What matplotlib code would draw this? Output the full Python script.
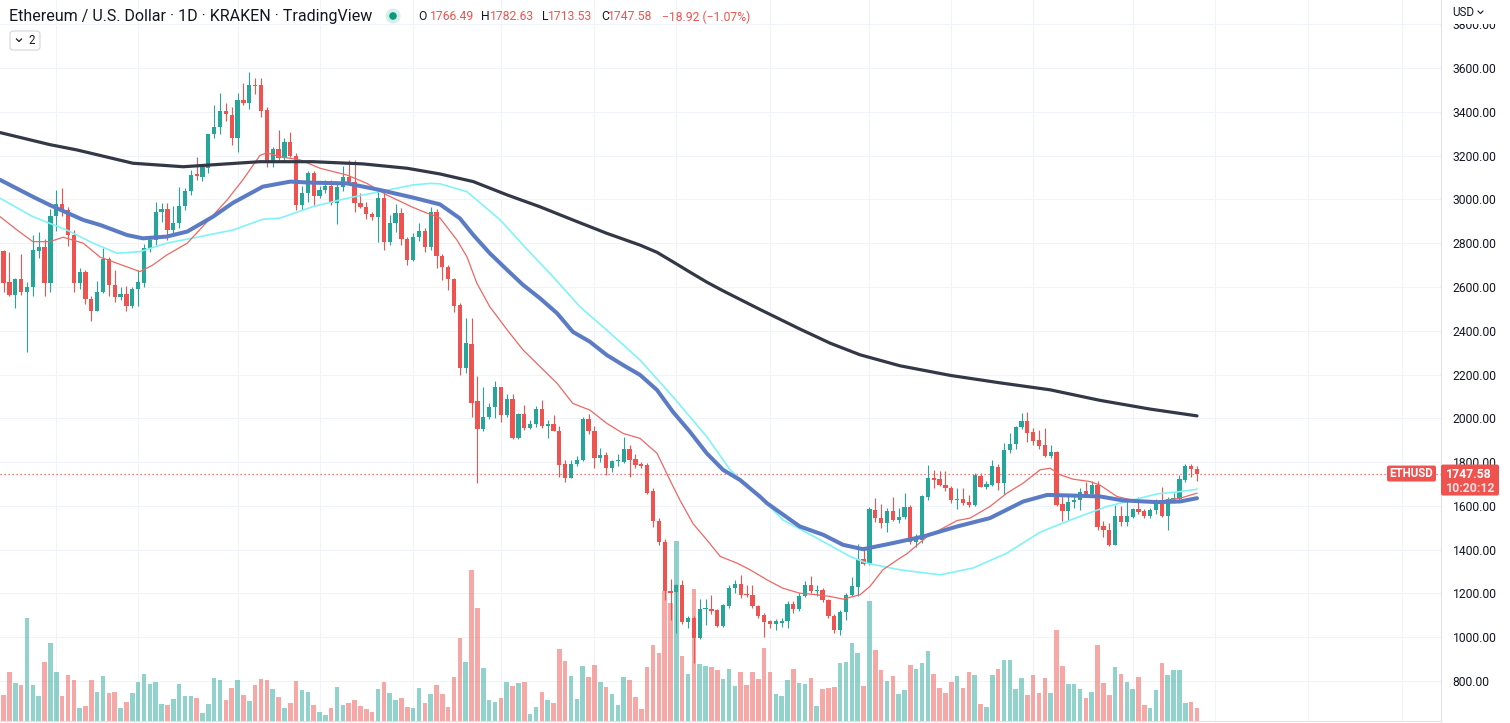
import matplotlib
matplotlib.use("Agg")
import matplotlib.pyplot as plt
import numpy as np
from matplotlib.patches import FancyBboxPatch, Circle, Rectangle

# ---------------- data ----------------
opens = [
2764,2623,2565,2636,2578,2600,2764,2783,2620,2924,
2978,2950,2838,2620,2668,2547,2492,2576,2728,2609,
2556,2568,2513,2590,2620,2777,2815,2943,2955,2860,
2892,2970,3036,3116,3104,3143,3299,3332,3404,3385,
3282,3454,3441,3522,3522,3408,3165,3230,3190,3264,
3200,2975,3028,3119,3017,3043,3061,2985,3055,3100,
3081,2982,2964,2934,2921,3005,2807,2891,2936,2818,
2723,2827,2855,2781,2941,2742,2690,2635,2518,2229,
2340,2081,1950,2005,2052,2142,2016,2087,1909,2019,
1955,1973,2043,1967,1975,1943,1792,1726,1792,1810,
1997,1940,1818,1833,1772,1805,1802,1860,1813,1792,
1787,1666,1532,1437,1212,1206,1240,1068,1087,995,
1127,1130,1125,1049,1141,1224,1244,1198,1194,1143,
1103,1072,1061,1064,1072,1153,1130,1189,1240,1212,
1217,1171,1098,1034,1115,1194,1229,1358,1335,1582,
1544,1521,1577,1535,1550,1597,1437,1444,1640,1727,
1722,1696,1681,1627,1632,1618,1605,1737,1688,1697,
1777,1704,1853,1883,1960,1986,1937,1901,1879,1830,
1847,1609,1575,1617,1625,1670,1655,1696,1509,1490,
1422,1554,1524,1551,1585,1577,1554,1579,1617,1554,
1631,1632,1716,1780,1766.49]

highs = [
2770,2760,2640,2750,2624,2837,2850,2820,2955,3043,
3052,2966,2860,2685,2677,2560,2627,2778,2738,2677,
2600,2606,2600,2677,2795,2832,2988,2985,2985,2970,
3058,3050,3134,3195,3160,3300,3431,3487,3440,3420,
3484,3530,3580,3553,3553,3420,3240,3317,3280,3307,
3210,3060,3130,3130,3060,3090,3090,3080,3151,3180,
3180,3030,2990,2940,3040,3030,2930,2980,2960,2830,
2845,2890,2870,2965,2955,2750,2700,2640,2525,2457,
2457,2194,2142,2070,2171,2145,2110,2110,2023,2060,
1990,2055,2085,1990,2015,1965,1810,1810,1830,2005,
2020,1965,1865,1845,1810,1835,1915,1880,1835,1800,
1795,1680,1545,1450,1265,1245,1260,1095,1095,1175,
1175,1194,1130,1150,1240,1260,1285,1240,1240,1145,
1110,1080,1085,1090,1165,1165,1200,1255,1280,1240,
1225,1175,1105,1125,1200,1275,1427,1405,1597,1635,
1610,1590,1640,1590,1660,1605,1470,1650,1787,1765,
1760,1760,1690,1680,1680,1650,1750,1750,1715,1810,
1790,1889,1935,1965,2023,2027,1955,1945,1955,1880,
1850,1655,1655,1650,1680,1710,1715,1712,1530,1520,
1605,1600,1620,1590,1640,1585,1590,1630,1685,1640,
1660,1740,1792,1792,1782.63]

lows = [
2577,2559,2506,2564,2305,2560,2734,2560,2577,2857,
2923,2789,2579,2592,2524,2446,2488,2570,2560,2530,
2540,2488,2504,2513,2600,2760,2790,2897,2815,2835,
2870,2950,3020,3088,3085,3120,3280,3300,3360,3250,
3218,3433,3413,3480,3378,3150,3148,3170,3175,3195,
2952,2952,2990,2976,3005,3030,2975,2888,3040,3070,
2940,2960,2910,2905,2803,2770,2790,2850,2790,2700,
2720,2810,2760,2770,2685,2632,2586,2487,2200,2206,
2005,1704,1940,1995,2000,1985,2005,1905,1905,1945,
1950,1960,1955,1910,1940,1734,1710,1725,1780,1805,
1930,1775,1800,1740,1755,1780,1795,1730,1775,1775,
1655,1503,1420,1168,1080,1019,1060,1040,880,990,
1054,1105,1045,1048,1135,1200,1180,1185,1135,1090,
1000,1040,1035,1045,1040,1110,1120,1185,1200,1190,
1160,1090,1020,1008,1080,1190,1190,1330,1332,1525,
1500,1480,1530,1520,1540,1425,1410,1430,1625,1680,
1690,1670,1615,1585,1605,1595,1600,1685,1675,1690,
1672,1655,1840,1860,1950,1890,1880,1860,1822,1820,
1600,1529,1535,1590,1580,1645,1640,1490,1460,1415,
1420,1510,1510,1545,1565,1545,1545,1565,1550,1490,
1615,1625,1710,1730,1713.53]

closes = [
2618,2564,2636,2578,2600,2769,2783,2620,2924,2978,
2948,2838,2620,2668,2547,2492,2576,2728,2609,2556,
2568,2513,2590,2622,2777,2815,2943,2955,2860,2892,
2970,3038,3112,3107,3150,3299,3332,3404,3389,3282,
3454,3441,3522,3518,3405,3165,3230,3190,3264,3200,
2975,3028,3119,3017,3043,3061,2985,3055,3100,3081,
2982,2964,2932,2921,3005,2807,2891,2936,2818,2723,
2827,2855,2781,2941,2742,2690,2635,2513,2229,2343,
2072,1950,2005,2050,2142,2016,2087,1909,2019,1955,
1973,2043,1967,1975,1940,1787,1726,1792,1810,1997,
1940,1818,1833,1772,1805,1806,1860,1810,1787,1783,
1660,1529,1433,1209,1204,1240,1068,1087,996,1130,
1130,1122,1049,1145,1224,1244,1194,1191,1141,1095,
1068,1061,1072,1075,1153,1130,1189,1240,1212,1217,
1168,1095,1034,1117,1194,1232,1358,1335,1587,1544,
1521,1577,1535,1550,1595,1437,1448,1643,1727,1719,
1696,1681,1627,1631,1615,1605,1742,1688,1700,1783,
1704,1856,1883,1962,1986,1935,1898,1874,1830,1847,
1605,1575,1617,1628,1663,1655,1696,1505,1488,1422,
1554,1524,1554,1585,1573,1554,1582,1620,1554,1631,
1637,1723,1780,1766.50,1747.58]

volumes = [
26,49,38,36,103,36,25,59,78,49,
25,46,41,13,15,41,29,45,28,29,
13,19,28,39,47,37,39,17,16,22,
37,25,25,23,8,17,43,41,21,33,
41,26,20,36,42,41,32,24,13,18,
40,31,29,16,9,6,13,34,16,18,
21,15,12,9,32,39,28,21,23,14,
13,33,18,27,36,27,14,44,83,59,
151,113,53,21,19,23,39,35,38,39,
7,14,29,21,18,72,60,45,22,55,
44,56,39,34,27,16,44,41,24,12,
54,76,68,130,118,180,65,47,132,57,
55,54,51,42,52,35,49,36,49,42,
73,49,27,25,41,52,38,37,43,15,
32,33,34,58,59,78,68,35,120,71,
51,40,45,27,31,56,52,58,70,47,
33,28,39,45,33,49,46,17,14,46,
52,61,61,32,43,26,46,28,43,28,
91,55,37,37,32,23,29,76,38,26,
54,47,39,32,44,16,13,31,58,46,
51,51,18,19,13]

# moving averages (bar index, price)
ma_black_idx = [-0.6, 7.9, 12.5, 22.1, 30.7, 43.8, 52.9, 61.4, 69.0, 74.6, 80.3, 86.1, 91.7,
                97.3, 103.1, 108.8, 111.7, 114.4, 117.3, 120.2, 123.0, 129.3, 136.1, 141.3,
                146.4, 153.2, 161.8, 170.3, 178.9, 187.4, 196.0, 204.0]
ma_black_val = [3305, 3250, 3226, 3165, 3149, 3172, 3172, 3162, 3142, 3116, 3081, 3020, 2966,
                2906, 2845, 2791, 2758, 2715, 2668, 2622, 2582, 2497, 2408, 2343,
                2290, 2240, 2196, 2162, 2130, 2082, 2042, 2011]

ma_blue_idx = [-0.6, 5.0, 7.9, 13.6, 16.5, 21.1, 23.8, 27.9, 31.4, 35.8, 39.2, 44.3, 49.0, 52.9,
               58.7, 64.3, 70.0, 74.6, 78.0, 80.3, 83.1, 86.1, 88.8, 91.7, 94.6, 97.3, 100.2,
               103.1, 105.9, 108.8, 111.7, 114.4, 117.3, 120.2, 123.0, 125.9, 129.3, 130.5,
               136.1, 140.1, 143.5, 146.9, 151.5, 157.2, 163.0, 168.6, 174.3, 178.4, 182.8,
               187.4, 191.3, 197.2, 201.1, 204.0]
ma_blue_val = [3089, 3012, 2974, 2906, 2883, 2837, 2822, 2830, 2853, 2921, 2984, 3058, 3081, 3076,
               3073, 3043, 3008, 2977, 2913, 2837, 2754, 2677, 2609, 2548, 2480, 2395, 2350,
               2289, 2243, 2198, 2129, 2030, 1939, 1840, 1764, 1718, 1642, 1612,
               1506, 1468, 1422, 1402, 1427, 1460, 1506, 1544, 1620, 1650, 1647,
               1643, 1625, 1617, 1620, 1635]

ma_cyan_idx = [-0.6, 5.0, 10.8, 15.3, 19.4, 23.3, 27.9, 33.6, 39.2, 44.3, 47.2, 52.9, 58.7, 64.3,
               70.0, 72.9, 74.6, 79.2, 84.9, 88.8, 93.9, 98.5, 103.1, 108.8, 114.4, 120.2, 124.2,
               129.3, 133.2, 139.0, 144.7, 147.6, 153.2, 160.1, 165.7, 171.5, 177.2, 182.8, 188.6,
               193.1, 197.2, 201.1, 204.0]
ma_cyan_val = [3005, 2921, 2860, 2800, 2754, 2761, 2800, 2830, 2860, 2909, 2914, 2967, 3005, 3035,
               3066, 3073, 3071, 3035, 2906, 2791, 2647, 2510, 2403, 2266, 2099, 1916, 1764,
               1642, 1536, 1453, 1369, 1338, 1308, 1285, 1316, 1384, 1480, 1540, 1597,
               1627, 1655, 1665, 1676]

ma_red_idx = [-0.6, 2.3, 5.0, 7.9, 10.2, 13.6, 16.5, 19.4, 23.3, 25.5, 27.9, 31.4, 34.8, 38.2,
              40.9, 43.8, 45.0, 47.2, 50.7, 54.1, 58.7, 62.1, 65.5, 70.0, 72.4, 74.6, 77.5, 79.2,
              80.9, 83.1, 86.1, 88.8, 91.7, 94.6, 97.3, 99.0, 100.2, 103.1, 105.9, 108.8, 111.7,
              113.9, 115.6, 117.9, 120.2, 122.5, 125.4, 127.6, 130.5, 133.2, 136.1, 139.0, 141.3,
              143.5, 146.4, 148.1, 150.3, 153.2, 154.4, 157.8, 163.0, 165.2, 168.6, 171.5, 174.3,
              177.2, 178.9, 180.6, 182.8, 185.7, 187.4, 190.3, 193.1, 197.2, 201.1, 204.0]
ma_red_val = [2921, 2860, 2807, 2807, 2827, 2800, 2736, 2708, 2670, 2700, 2746, 2800, 2898, 2997,
              3089, 3200, 3213, 3195, 3180, 3142, 3111, 3073, 3020, 2963, 2937, 2915, 2814, 2738,
              2617, 2510, 2403, 2312, 2236, 2160, 2068, 2050, 2038, 1977, 1931, 1908, 1840,
              1718, 1627, 1517, 1445, 1369, 1338, 1308, 1262, 1224, 1201, 1194, 1186,
              1174, 1194, 1232, 1308, 1361, 1381, 1458, 1533, 1544, 1597, 1658, 1704,
              1765, 1772, 1742, 1722, 1711, 1695, 1643, 1625, 1620, 1635, 1658]

price_ticks = [800, 1000, 1200, 1400, 1600, 1800, 2000, 2200, 2400, 2600,
               2800, 3000, 3200, 3400, 3600, 3800]
grid_days = [9, 23, 40, 54, 70, 85, 101, 115, 131, 148, 162, 176, 193, 207, 223, 239]

title_text = "Ethereum / U.S. Dollar \u00b7 1D \u00b7 KRAKEN \u00b7 TradingView"
symbol = "ETHUSD"
countdown = "10:20:12"

# ---------------- figure ----------------
W, H = 1510, 723
fig = plt.figure(figsize=(W / 100, H / 100), dpi=100)
fig.patch.set_facecolor("white")

UP, DOWN = "#26a69a", "#ef5350"
px_x0, px_dx = 3.6, 5.85
plot_w, plot_h = 1441, 721
xlim = (-px_x0 / px_dx, (plot_w - px_x0) / px_dx)
ylim = (617.3, 3910.6)
rect = [0, (H - plot_h) / H, plot_w / W, plot_h / H]

# grid layer
axg = fig.add_axes(rect, zorder=0)
axg.set_xlim(*xlim)
axg.set_ylim(*ylim)
axg.set_xticks(grid_days)
axg.set_yticks(price_ticks)
axg.grid(True, color="#f0f3fa", lw=0.8)
axg.tick_params(length=0, labelleft=False, labelbottom=False)
for s in axg.spines.values():
    s.set_visible(False)

# volume layer
axv = fig.add_axes(rect, zorder=1, sharex=axg)
axv.patch.set_visible(False)
axv.set_ylim(0, plot_h)
O = np.array(opens, float); Hh = np.array(highs, float)
Lw = np.array(lows, float); C = np.array(closes, float)
V = np.array(volumes, float)
idx = np.arange(len(O))
up = C >= O
vcol = np.where(up, UP, DOWN)
axv.bar(idx, V, width=0.78, color=vcol, alpha=0.5, linewidth=0)
axv.axis("off")

# price layer
ax = fig.add_axes(rect, zorder=2, sharex=axg)
ax.patch.set_visible(False)
ax.set_xlim(*xlim)
ax.set_ylim(*ylim)
ccol = np.where(up, UP, DOWN)
hi = np.maximum(Hh, np.maximum(O, C))
lo = np.minimum(Lw, np.minimum(O, C))
ax.vlines(idx, lo, hi, colors=ccol, lw=0.8, zorder=2)
unit = (ylim[1] - ylim[0]) / plot_h
body_h = np.maximum(np.abs(C - O), unit * 1.2)
ax.bar(idx, body_h, bottom=np.minimum(O, C), width=0.72, color=ccol, linewidth=0, zorder=2)

ax.plot(ma_cyan_idx, ma_cyan_val, color="#80f3f8", lw=1.2, zorder=3, solid_joinstyle="round")
ax.plot(ma_red_idx, ma_red_val, color="#ee6763", lw=0.9, zorder=3, solid_joinstyle="round")
ax.plot(ma_blue_idx, ma_blue_val, color="#5b7cc4", lw=2.9, zorder=3, solid_joinstyle="round",
        solid_capstyle="round")
ax.plot(ma_black_idx, ma_black_val, color="#323846", lw=2.3, zorder=3, solid_joinstyle="round",
        solid_capstyle="round")

last_price = C[-1]
ax.axhline(last_price, color=DOWN, lw=0.9, ls=(0, (1, 2.2)), zorder=1.5)

ax.yaxis.tick_right()
ax.set_yticks(price_ticks)
ax.set_yticklabels([f"{p:.2f}" for p in price_ticks], family="Roboto", fontsize=8.7,
                   color="#131722")
ax.tick_params(axis="y", length=0, pad=8.5)
ax.tick_params(axis="x", length=0, labelbottom=False)
for side in ("top", "left"):
    ax.spines[side].set_visible(False)
ax.spines["right"].set_color("#e0e3eb")
ax.spines["bottom"].set_color("#e0e3eb")

# ---------------- overlay (header, labels) ----------------
ov = fig.add_axes([0, 0, 1, 1], zorder=5)
ov.set_xlim(0, W)
ov.set_ylim(H, 0)
ov.axis("off")
renderer = fig.canvas.get_renderer()


def fit(x, y, s, width, color, weight="normal", ha="left", family="Roboto"):
    t = ov.text(x, y, s, fontsize=10, color=color, weight=weight, ha=ha, va="center",
                family=family)
    w = t.get_window_extent(renderer).width
    t.set_fontsize(10 * width / w)
    return t


fit(9, 16, title_text, 361, "#131722")
ov.add_patch(Circle((393, 16), 7.5, color="#d7efe9", lw=0))
ov.add_patch(Circle((393, 16), 3.8, color="#089981", lw=0))

o_, h_, l_, c_ = opens[-1], highs[-1], lows[-1], closes[-1]
chg = c_ - closes[-2]
pct = chg / closes[-2] * 100
legend = [("O", 418, "#131722"), (f"{o_:.2f}", 430, DOWN),
          ("H", 481, "#131722"), (f"{h_:.2f}", 490, DOWN),
          ("L", 542, "#131722"), (f"{l_:.2f}", 548, DOWN),
          ("C", 601, "#131722"), (f"{c_:.2f}", 608, DOWN),
          (f"\u2212{abs(chg):.2f} (\u2212{abs(pct):.2f}%)", 662, DOWN)]
tval = fit(430, 17, legend[1][0], 44, DOWN)
fs = tval.get_fontsize()
tval.remove()
for s, x, col in legend:
    ov.text(x, 17, s, fontsize=fs, color=col, va="center", ha="left", family="Roboto")

# small "collapse" box
ov.add_patch(FancyBboxPatch((10, 31), 30, 19, boxstyle="round,pad=0,rounding_size=3",
                            fc="white", ec="#d1d4dc", lw=0.8))
ov.plot([16.5, 19, 21.5], [39, 41.5, 39], color="#131722", lw=0.9)
ov.text(28, 40.5, "2", fontsize=fs * 0.95, color="#131722", va="center", ha="left",
        family="Roboto")

# currency button on the price scale (hides the top of the 3800 label)
ov.add_patch(Rectangle((1442, 0), W - 1442, 23.5, fc="white", ec="none"))
ov.text(1452, 12, "USD", fontsize=8.4, color="#131722", va="center", ha="left", family="Roboto")
ov.plot([1478, 1480.5, 1483], [11, 13.5, 11], color="#131722", lw=0.8)

# last price labels
yp = H - ax.transData.transform((0, last_price))[1]
ov.add_patch(FancyBboxPatch((1387, yp - 8), 49, 16, boxstyle="round,pad=0,rounding_size=2",
                            fc=DOWN, ec="none"))
ov.text(1411.5, yp, symbol, fontsize=8.3, color="white", weight="bold", va="center",
        ha="center", family="Roboto")
ov.add_patch(FancyBboxPatch((1441, yp - 9), 58, 31, boxstyle="round,pad=0,rounding_size=2",
                            fc=DOWN, ec="none"))
ov.text(1446, yp + 0.5, f"{last_price:.2f}", fontsize=8.8, color="white", weight="bold",
        va="center", ha="left", family="Roboto")
ov.text(1446, yp + 14.5, countdown, fontsize=8.8, color="#fde3e2", weight="bold",
        va="center", ha="left", family="Roboto")

fig.savefig("out.png", dpi=100, facecolor="white")
